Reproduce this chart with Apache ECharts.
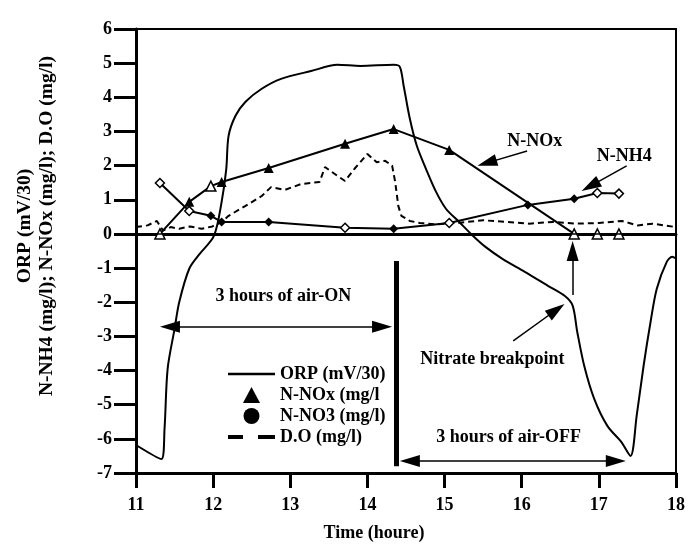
<!DOCTYPE html>
<html>
<head>
<meta charset="utf-8">
<script src="https://cdn.jsdelivr.net/npm/echarts@6/dist/echarts.min.js"></script>
<style>
  html, body { margin: 0; padding: 0; background: #fff; }
  #chart { width: 688px; height: 549px; }
</style>
</head>
<body>
<div id="chart"></div>
<script>
// ORP curve (mV/30)
const orpTime = [11.0, 11.33, 11.37, 11.41, 11.5, 11.56, 11.69, 11.82, 12.01, 12.11, 12.17, 12.2, 12.29, 12.42, 12.63, 12.88, 13.27, 13.61, 13.91, 14.34, 14.42, 14.47, 14.55, 14.64, 14.76, 14.89, 15.02, 15.19, 15.37, 15.53, 15.75, 16.04, 16.34, 16.56, 16.66, 16.72, 16.81, 16.94, 17.11, 17.29, 17.41, 17.49, 17.58, 17.67, 17.75, 17.88, 17.95, 18.0]
const orpValue = [-6.18, -6.59, -5.7, -3.95, -2.78, -2.0, -1.02, -0.6, -0.06, 0.94, 1.9, 2.87, 3.46, 3.87, 4.25, 4.54, 4.77, 4.95, 4.92, 4.95, 4.89, 4.33, 3.37, 2.58, 1.9, 1.23, 0.73, 0.35, -0.06, -0.38, -0.73, -1.11, -1.52, -1.82, -2.1, -2.87, -3.86, -4.83, -5.62, -6.09, -6.5, -5.33, -3.86, -2.58, -1.61, -0.82, -0.67, -0.72]

// N-NOx (mg/l)
const noxTime = [11.31, 11.69, 11.97, 12.11, 12.72, 13.71, 14.34, 15.06, 16.68, 16.98, 17.26]
const noxValue = [0, 0.94, 1.4, 1.52, 1.93, 2.64, 3.07, 2.46, 0, 0, 0]

// N-NH4 / N-NO3 (mg/l)
const nh4Time = [11.31, 11.69, 11.97, 12.11, 12.72, 13.71, 14.34, 15.06, 16.08, 16.68, 16.98, 17.26]
const nh4Value = [1.49, 0.67, 0.53, 0.35, 0.35, 0.18, 0.15, 0.32, 0.85, 1.03, 1.2, 1.18]

// D.O (mg/l)
const doTime = [11.0, 11.15, 11.27, 11.35, 11.45, 11.56, 11.7, 11.85, 11.99, 12.11, 12.2, 12.42, 12.63, 12.75, 12.93, 13.14, 13.38, 13.45, 13.61, 13.71, 13.83, 14.0, 14.12, 14.23, 14.32, 14.36, 14.4, 14.44, 14.55, 14.68, 14.9, 15.2, 15.5, 15.8, 16.1, 16.4, 16.7, 17.0, 17.3, 17.5, 17.7, 18.0]
const doValue = [0.2, 0.25, 0.38, 0.1, 0.2, 0.15, 0.22, 0.15, 0.22, 0.35, 0.53, 0.82, 1.11, 1.37, 1.29, 1.46, 1.52, 1.96, 1.7, 1.55, 1.9, 2.34, 2.1, 2.14, 2.0, 1.52, 0.82, 0.53, 0.38, 0.32, 0.28, 0.33, 0.4, 0.35, 0.3, 0.35, 0.3, 0.32, 0.38, 0.25, 0.3, 0.2]

const legendNames = ['ORP (mV/30)', 'N-NOx (mg/l', 'N-NO3 (mg/l)', 'D.O (mg/l)']

// points drawn as hollow markers
const noxHollow = [0, 2, 8, 9, 10]
const nh4Hollow = [0, 1, 5, 7, 10, 11]

const font = 'Liberation Serif'
const chart = echarts.init(document.getElementById('chart'))

const pairs = (xs, ys) => xs.map((x, i) => [x, ys[i]])

const marked = (xs, ys, hollow) => xs.map((x, i) => {
  const item = { value: [x, ys[i]] }
  if (hollow.includes(i)) {
    item.itemStyle = { color: '#fff', borderColor: '#000', borderWidth: 1.5 }
  }
  return item
})

// arrowheads are centred on the end coord, so ends sit half a head short of the tip
const head = { symbol: 'triangle', symbolSize: [12, 20] }
const arrow = (from, to, both) => [
  Object.assign({ coord: from }, both ? head : { symbol: 'none' }),
  Object.assign({ coord: to }, head)
]

const note = (text, coord) => ({
  coord,
  symbol: 'circle',
  symbolSize: 1,
  itemStyle: { color: 'rgba(0,0,0,0)' },
  label: {
    show: true,
    position: 'inside',
    formatter: text,
    fontFamily: font,
    fontWeight: 'bold',
    fontSize: 18,
    color: '#000'
  }
})

const option = {
  animation: false,
  backgroundColor: '#fff',
  grid: {
    left: 136,
    right: 5,
    top: 29,
    bottom: 76,
    show: true,
    borderColor: '#000',
    borderWidth: 2
  },
  legend: {
    orient: 'vertical',
    left: 223,
    top: 360,
    itemWidth: 47,
    itemHeight: 16,
    itemGap: 3,
    symbolKeepAspect: true,
    selectedMode: false,
    textStyle: { fontFamily: font, fontWeight: 'bold', fontSize: 18, color: '#000' },
    data: [
      { name: legendNames[0], icon: 'path://M0,0H47V2.5H0Z' },
      { name: legendNames[1], icon: 'path://M8,0L16,15L0,15Z' },
      { name: legendNames[2], icon: 'circle' },
      { name: legendNames[3], icon: 'path://M0,0H15V4H0Z M30,0H47V4H30Z' }
    ]
  },
  xAxis: [
    {
      type: 'value',
      min: 11,
      max: 18,
      interval: 1,
      name: 'Time (houre)',
      nameLocation: 'middle',
      nameGap: 51,
      nameTextStyle: {
        fontFamily: font, fontWeight: 'bold', fontSize: 18, color: '#000',
        padding: [0, 64, 0, 0]
      },
      axisLine: { onZero: false, lineStyle: { color: '#000', width: 3 } },
      axisTick: { length: 15, lineStyle: { color: '#000', width: 3 } },
      axisLabel: { margin: 23, fontFamily: font, fontWeight: 'bold', fontSize: 18, color: '#000' },
      splitLine: { show: false }
    },
    {
      type: 'value',
      position: 'top',
      min: 11,
      max: 18,
      axisLine: { show: true, lineStyle: { color: '#000', width: 3 } },
      axisTick: { show: false },
      axisLabel: { show: false },
      splitLine: { show: false }
    }
  ],
  yAxis: {
    type: 'value',
    min: -7,
    max: 6,
    interval: 1,
    name: 'ORP (mV/30)\nN-NH4 (mg/l); N-NOx (mg/l); D.O (mg/l)',
    nameLocation: 'middle',
    nameRotate: 90,
    nameGap: 78,
    nameTextStyle: {
      fontFamily: font, fontWeight: 'bold', fontSize: 19.5, lineHeight: 22, color: '#000',
      padding: [0, 0, 0, 50]
    },
    axisLine: { show: true, onZero: false, lineStyle: { color: '#000', width: 3 } },
    axisTick: { show: true, length: 22, lineStyle: { color: '#000', width: 3 } },
    axisLabel: {
      margin: 24,
      fontFamily: font, fontWeight: 'bold', fontSize: 18, color: '#000',
      padding: [0, 0, 10, 0]
    },
    splitLine: { show: false }
  },
  series: [
    {
      name: legendNames[0],
      type: 'line',
      data: pairs(orpTime, orpValue),
      smooth: 0.3,
      symbol: 'none',
      lineStyle: { color: '#000', width: 2 },
      itemStyle: { color: '#000' },
      z: 3,
      markLine: {
        silent: true,
        symbol: 'none',
        label: { show: false },
        lineStyle: { color: '#000', width: 1.5, type: 'solid' },
        data: [
          [{ coord: [11, 0], symbol: 'none' }, { coord: [18, 0], symbol: 'none' }],
          [{ coord: [14.37, -0.79], symbol: 'none', lineStyle: { width: 5 } },
           { coord: [14.37, -6.8], symbol: 'none' }],
          arrow([11.44, -2.72], [14.19, -2.72], true),
          arrow([14.55, -6.65], [17.22, -6.65], true),
          arrow([15.89, -3.13], [16.45, -2.22]),
          arrow([16.66, -1.79], [16.66, -0.5]),
          arrow([16.07, 2.43], [15.55, 2.08]),
          arrow([17.36, 1.99], [16.89, 1.4])
        ]
      },
      markPoint: {
        silent: true,
        data: [
          note('3 hours of air-ON', [12.91, -1.82]),
          note('3 hours of air-OFF', [15.83, -5.97]),
          note('Nitrate breakpoint', [15.62, -3.66]),
          note('N-NOx', [16.17, 2.72]),
          note('N-NH4', [17.33, 2.28])
        ]
      }
    },
    {
      name: legendNames[1],
      type: 'line',
      data: marked(noxTime, noxValue, noxHollow),
      symbol: 'triangle',
      symbolSize: 10,
      lineStyle: { color: '#000', width: 2 },
      itemStyle: { color: '#000' },
      z: 4
    },
    {
      name: legendNames[2],
      type: 'line',
      data: marked(nh4Time, nh4Value, nh4Hollow),
      symbol: 'diamond',
      symbolSize: 9,
      lineStyle: { color: '#000', width: 2 },
      itemStyle: { color: '#000' },
      z: 4
    },
    {
      name: legendNames[3],
      type: 'line',
      data: pairs(doTime, doValue),
      symbol: 'none',
      lineStyle: { color: '#000', width: 2, type: [6, 4] },
      itemStyle: { color: '#000' },
      z: 2
    }
  ]
}

chart.setOption(option)
</script>
</body>
</html>
